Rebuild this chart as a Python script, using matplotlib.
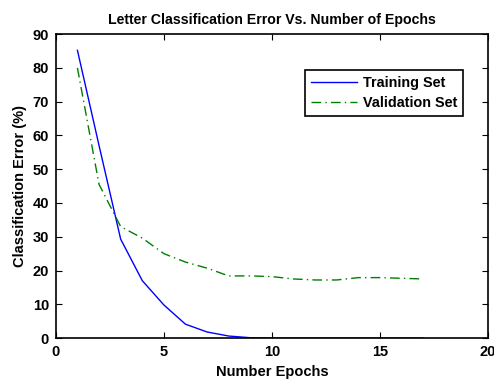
import matplotlib
matplotlib.use('Agg')
from matplotlib import pyplot as plt

# data
epochs = list(range(1, 18))
train_err = [85.2, 57.0, 29.3, 17.0, 9.8, 4.1, 1.8, 0.6, 0.1, 0.0, 0.0, 0.0, 0.0, 0.0, 0.0, 0.0, 0.0]
valid_err = [80.0, 45.5, 33.0, 29.6, 25.0, 22.5, 20.7, 18.4, 18.4, 18.2, 17.5, 17.2, 17.2, 17.9, 17.9, 17.7, 17.5]

plt.rcParams['font.family'] = 'Liberation Sans'
plt.rcParams['font.weight'] = 'bold'

fig = plt.figure(figsize=(4.94, 3.79), dpi=100)
ax = fig.add_axes([0.113, 0.108, 0.875, 0.802])

ax.plot(epochs, train_err, color='#0000ff', lw=1.0, label='Training Set')
ax.plot(epochs, valid_err, color='#008000', lw=1.0, ls=(0, (7, 3, 1, 3)), label='Validation Set')

ax.set_xlim(0, 20)
ax.set_ylim(0, 90)
ax.set_xticks([0, 5, 10, 15, 20])
ax.set_yticks(range(0, 91, 10))
ax.tick_params(direction='in', top=True, right=True, labelsize=10.5, length=4, pad=5)
for lab in ax.get_xticklabels() + ax.get_yticklabels():
    lab.set_fontweight('bold')
for s in ax.spines.values():
    s.set_linewidth(1.2)

ax.set_title('Letter Classification Error Vs. Number of Epochs', fontsize=10.2, fontweight='bold', pad=7.5)
ax.set_xlabel('Number Epochs', fontsize=10.5, fontweight='bold', labelpad=4)
ax.set_ylabel('Classification Error (%)', fontsize=10.5, fontweight='bold')

leg = ax.legend(loc='upper right', bbox_to_anchor=(0.937, 0.815), bbox_transform=fig.transFigure,
                borderaxespad=0, fontsize=10.4, fancybox=False, edgecolor='black',
                framealpha=1, handlelength=3.2, handletextpad=0.4, labelspacing=0.45)
leg.get_frame().set_linewidth(1.2)

fig.savefig('out.png', dpi=100)
plt.close()
